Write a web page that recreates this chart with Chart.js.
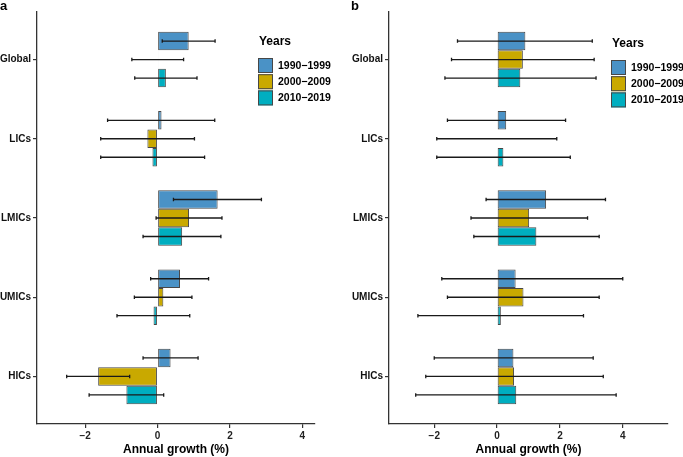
<!DOCTYPE html>
<html>
<head>
<meta charset="utf-8">
<script src="https://cdn.jsdelivr.net/npm/chart.js@4.4.1/dist/chart.umd.min.js"></script>
<style>
	body { margin: 0; background: #fff; }
	#wrap { position: relative; width: 683px; height: 457px; overflow: hidden; }
	.panel { position: absolute; top: 0; height: 457px; }
	.letter { position: absolute; top: -1px; font: bold 13px "Liberation Sans", Arial, sans-serif; line-height: 13px; color: #000; }
</style>
</head>
<body>
<div id="wrap">
	<div class="panel" style="left:0;width:340px;"><canvas id="chartA" width="340" height="457"></canvas></div>
	<div class="panel" style="left:340px;width:343px;"><canvas id="chartB" width="343" height="457"></canvas></div>
	<div class="letter" style="left:0;">a</div>
	<div class="letter" style="left:351px;">b</div>
</div>
<script>
const categories = ["Global", "LICs", "LMICs", "UMICs", "HICs"];
const periods = ["1990\u22121999", "2000\u22122009", "2010\u22122019"];
const colors = ["#4a92c6", "#c9a900", "#00aec0"];
const xTicks = [-2, 0, 2, 4];

// panel a
const a1990 = [0.86, 0.11, 1.66, 0.62, 0.36];
const a2000 = [0.02, -0.28, 0.87, 0.16, -1.64];
const a2010 = [0.23, -0.14, 0.68, -0.11, -0.86];
const a1990Low = [0.13, -1.38, 0.44, -0.19, -0.40];
const a1990High = [1.59, 1.58, 2.87, 1.41, 1.12];
const a2000Low = [-0.71, -1.57, -0.04, -0.64, -2.51];
const a2000High = [0.72, 1.02, 1.78, 0.95, -0.77];
const a2010Low = [-0.63, -1.57, -0.40, -1.12, -1.89];
const a2010High = [1.09, 1.30, 1.75, 0.89, 0.17];

// panel b
const b1990 = [0.90, 0.29, 1.56, 0.59, 0.52];
const b2000 = [0.82, 0.02, 1.02, 0.84, 0.54];
const b2010 = [0.74, 0.20, 1.25, 0.12, 0.61];
const b1990Low = [-1.26, -1.58, -0.35, -1.76, -2.00];
const b1990High = [3.03, 2.18, 3.45, 4.00, 3.06];
const b2000Low = [-1.45, -1.92, -0.83, -1.58, -2.27];
const b2000High = [3.09, 1.90, 2.88, 3.25, 3.38];
const b2010Low = [-1.66, -1.92, -0.74, -2.52, -2.59];
const b2010High = [3.15, 2.33, 3.25, 2.75, 3.79];

const fontFamily = "'Liberation Sans', Arial, sans-serif";
const axisColor = "#333";

// error bars drawn from each bar's centre, through the x scale
const errorBars = {
	id: "errorBars",
	afterDatasetsDraw(chart, args, opts) {
		const ctx = chart.ctx;
		const xScale = chart.scales.x;
		ctx.save();
		ctx.strokeStyle = "#1a1a1a";
		ctx.lineWidth = 1.3;
		chart.data.datasets.forEach(function(ds, i) {
			const meta = chart.getDatasetMeta(i);
			meta.data.forEach(function(bar, j) {
				const x1 = xScale.getPixelForValue(ds.low[j]);
				const x2 = xScale.getPixelForValue(ds.high[j]);
				const y = bar.y;
				ctx.beginPath();
				ctx.moveTo(x1, y);
				ctx.lineTo(x2, y);
				ctx.moveTo(x1, y - 1.8);
				ctx.lineTo(x1, y + 1.8);
				ctx.moveTo(x2, y - 1.8);
				ctx.lineTo(x2, y + 1.8);
				ctx.stroke();
			});
		});
		ctx.restore();
	}
};

// ggplot-like legend box
const yearsLegend = {
	id: "yearsLegend",
	afterDraw(chart, args, opts) {
		const ctx = chart.ctx;
		ctx.save();
		ctx.fillStyle = "#000";
		ctx.textBaseline = "middle";
		ctx.textAlign = "left";
		ctx.font = "bold 12px " + fontFamily;
		ctx.fillText("Years", opts.x + 1, opts.y);
		ctx.font = "bold 10.5px " + fontFamily;
		chart.data.datasets.forEach(function(ds, i) {
			const top = opts.y + 16 + i * 16.2;
			ctx.fillStyle = ds.backgroundColor;
			ctx.fillRect(opts.x, top, 15, 15);
			ctx.strokeStyle = "#474747";
			ctx.lineWidth = 1;
			ctx.strokeRect(opts.x + 0.5, top + 0.5, 14, 14);
			ctx.fillStyle = "#000";
			ctx.fillText(ds.label, opts.x + 20, top + 8);
		});
		ctx.restore();
	}
};

function makeDatasets(values, lows, highs) {
	return values.map(function(vals, k) {
		return {
			label: periods[k],
			data: vals.map(function(v, i) {
				return { x: v, y: categories.length - 1 - i };
			}),
			low: lows[k],
			high: highs[k],
			backgroundColor: colors[k],
			borderColor: "#474747",
			borderWidth: 1,
			borderSkipped: false,
			categoryPercentage: 0.7,
			barPercentage: 1.0,
		};
	});
}

function makeChart(id, datasets, xMin, xMax, leftW, rightPad, legendPos) {
	const ctx = document.getElementById(id).getContext("2d");
	const config = {
		type: "bar",
		data: { datasets: datasets },
		options: {
			indexAxis: "y",
			responsive: false,
			maintainAspectRatio: false,
			animation: false,
			layout: {
				padding: { left: 0, right: rightPad, top: 12, bottom: 0 },
			},
			plugins: {
				legend: { display: false },
				tooltip: { enabled: false },
				yearsLegend: legendPos,
			},
			scales: {
				x: {
					type: "linear",
					min: xMin,
					max: xMax,
					offset: false,
					afterBuildTicks: function(scale) {
						scale.ticks = xTicks.map(function(v) { return { value: v }; });
					},
					afterFit: function(scale) {
						scale.height = 33;
					},
					grid: {
						offset: false,
						drawOnChartArea: false,
						drawTicks: true,
						tickLength: 4,
						color: axisColor,
						lineWidth: 1.2,
					},
					border: { display: true, color: axisColor, width: 1.3 },
					ticks: {
						padding: 2,
						color: "#222",
						font: { family: fontFamily, size: 10, weight: "bold" },
						callback: function(v) { return v < 0 ? "\u2212" + Math.abs(v) : String(v); },
					},
					title: {
						display: true,
						text: "Annual growth (%)",
						color: "#000",
						padding: { top: 0, bottom: 0 },
						font: { family: fontFamily, size: 12, weight: "bold" },
					},
				},
				y: {
					type: "linear",
					min: -0.6,
					max: categories.length - 0.4,
					offset: false,
					afterBuildTicks: function(scale) {
						scale.ticks = categories.map(function(c, i) { return { value: i }; });
					},
					afterFit: function(scale) {
						scale.width = leftW;
					},
					grid: {
						offset: false,
						drawOnChartArea: false,
						drawTicks: true,
						tickLength: 4,
						color: axisColor,
						lineWidth: 1.2,
					},
					border: { display: true, color: axisColor, width: 1.3 },
					ticks: {
						padding: 2,
						color: "#111",
						font: { family: fontFamily, size: 10, weight: "bold" },
						callback: function(v) { return categories[categories.length - 1 - v]; },
					},
				},
			},
		},
		plugins: [errorBars, yearsLegend],
	};
	return new Chart(ctx, config);
}

makeChart("chartA",
	makeDatasets([a1990, a2000, a2010], [a1990Low, a2000Low, a2010Low], [a1990High, a2000High, a2010High]),
	-3.33, 4.35, 37, 25, { x: 258, y: 42 });

makeChart("chartB",
	makeDatasets([b1990, b2000, b2010], [b1990Low, b2000Low, b2010Low], [b1990High, b2000High, b2010High]),
	-3.44, 5.44, 49, 15, { x: 271, y: 44 });
</script>
</body>
</html>
